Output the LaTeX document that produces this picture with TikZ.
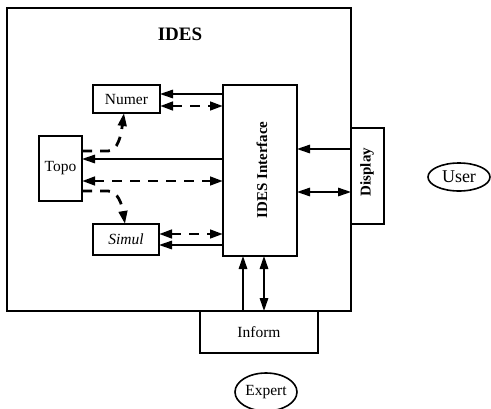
\documentclass[tikz,border=0pt]{standalone}
\usepackage{fontspec}
\setmainfont{Liberation Serif}
\usetikzlibrary{arrows.meta,shapes.geometric}

\begin{document}
\begin{tikzpicture}[
    x=1pt, y=-1pt,
    font=\fontsize{15.5}{18}\selectfont,
    box/.style={rectangle, draw, line width=1.6pt, inner sep=0pt, outer sep=0pt},
    oval/.style={ellipse, draw, line width=1.6pt, inner sep=0pt},
    arrow/.style={-{Triangle[length=13pt,width=8.5pt]}, line width=1.5pt},
    twoway/.style={{Triangle[length=13pt,width=8.5pt]}-{Triangle[length=13pt,width=8.5pt]}, line width=1.5pt},
    dasharrow/.style={arrow, line width=2.8pt, dash pattern=on 10pt off 8pt},
    dashtwoway/.style={twoway, line width=2.8pt, dash pattern=on 10pt off 8pt}
]
    \useasboundingbox (0,0) rectangle (491,408);

    \node[box, minimum width=344, minimum height=303] (ides) at (179,159.5) {};
    \node[font=\fontsize{19}{20}\selectfont\bfseries] (idestitle) at (180,34) {IDES};

    \node[box, minimum width=67, minimum height=28] (numer) at (126.5,99) {Numer};
    \node[box, minimum width=43, minimum height=65] (topo) at (60.5,168.5) {Topo};
    \node[box, minimum width=66, minimum height=31] (simul) at (126,239.5) {\itshape Simul};
    \node[box, minimum width=74, minimum height=171] (iface) at (260,170.5) {};
    \node[rotate=90, font=\fontsize{15}{18}\selectfont\bfseries] (ifacelabel) at (262,170) {IDES Interface};
    \node[box, minimum width=33, minimum height=96] (display) at (367.5,176) {};
    \node[rotate=90, font=\fontsize{15}{18}\selectfont\bfseries] (displaylabel) at (367,172) {Display};
    \node[box, minimum width=118, minimum height=42] (inform) at (259,332) {Inform};
    \node[oval, minimum width=62, minimum height=28, font=\fontsize{18}{20}\selectfont] (user) at (459,177) {User};
    \node[oval, minimum width=62, minimum height=38] (expert) at (266,392) {Expert};

    \draw[arrow] (iface.west |- 0,94) -- (numer.east |- 0,94);
    \draw[dashtwoway] (numer.east |- 0,106) -- (iface.west |- 0,106);
    \draw[dasharrow] (topo.east |- 0,151) -- (108,151) .. controls (118,151) and (121,135) .. (124,0 |- numer.south);
    \draw[arrow] (iface.west |- 0,159) -- (topo.east |- 0,159);
    \draw[dashtwoway] (topo.east |- 0,181) -- (iface.west |- 0,181);
    \draw[dasharrow] (topo.east |- 0,191) -- (108,191) .. controls (118,191) and (122,205) .. (125,0 |- simul.north);
    \draw[dashtwoway] (simul.east |- 0,234) -- (iface.west |- 0,234);
    \draw[arrow] (iface.west |- 0,245) -- (simul.east |- 0,245);

    \draw[arrow] (display.west |- 0,149) -- (iface.east |- 0,149);
    \draw[twoway] (iface.east |- 0,192) -- (display.west |- 0,192);

    \draw[arrow] (inform.north -| 243,0) -- (iface.south -| 243,0);
    \draw[twoway] (inform.north -| 264,0) -- (iface.south -| 264,0);
\end{tikzpicture}
\end{document}
